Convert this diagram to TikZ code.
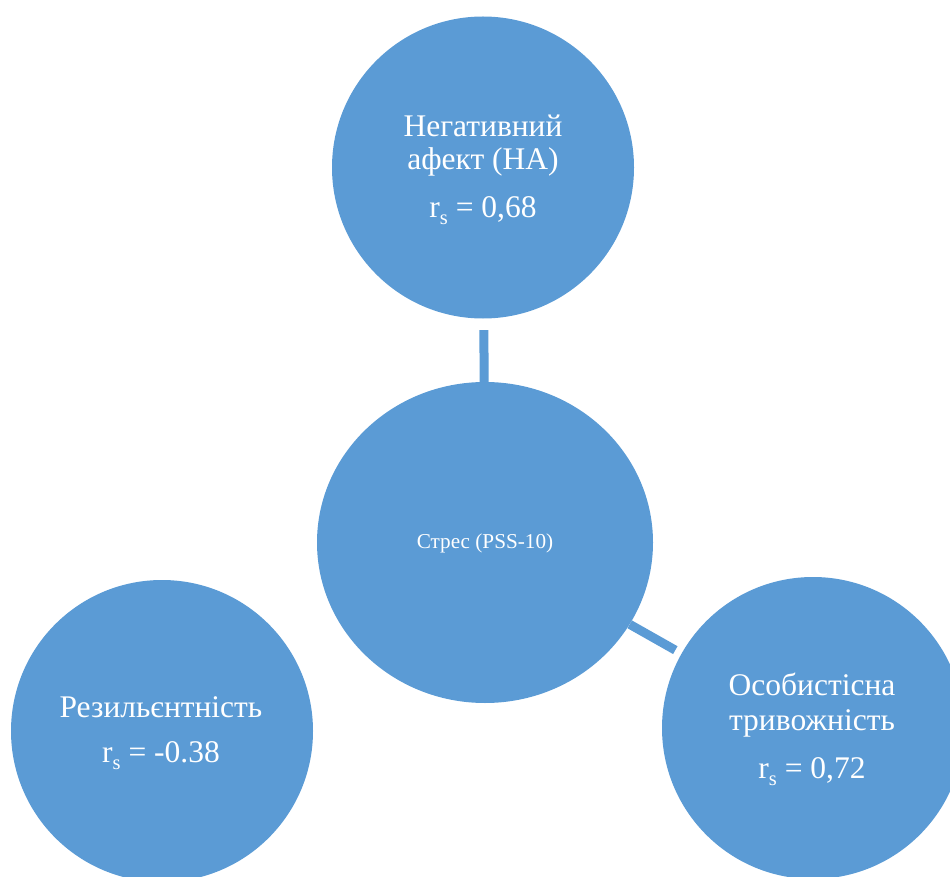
\documentclass[tikz,border=0pt]{standalone}
\usepackage{fontspec}
\setmainfont{Liberation Serif}
\usetikzlibrary{shapes.geometric}
\definecolor{cblue}{HTML}{5B9BD5}
\newcommand\rsub{r\raisebox{-7pt}{\fontsize{20.5}{20.5}\selectfont s}}
\tikzset{
  bubble/.style={circle, fill=cblue, draw=none, inner sep=0pt, minimum size=302pt},
  bigtxt/.style={text=white, font=\fontsize{31.5}{36}\selectfont, anchor=base, inner sep=0pt},
  smalltxt/.style={text=white, font=\fontsize{21.2}{25}\selectfont, anchor=base, inner sep=0pt},
  link/.style={draw=cblue, line width=9pt}
}
\begin{document}
\begin{tikzpicture}[x=1pt,y=-1pt]
\useasboundingbox (0,0) rectangle (950,877);
\clip (0,0) rectangle (950,877);
\node[bubble] (na) at (483,167.5) {};
\node[ellipse, fill=cblue, inner sep=0pt, minimum width=336pt, minimum height=321pt] (stress) at (485,542.5) {};
\node[bubble] (res) at (162,731) {};
\node[bubble] (anx) at (813,728) {};
\draw[link, shorten <=11.5pt] (na) -- (stress);
\draw[link, shorten >=7pt] (stress) -- (anx);
\node[bigtxt] (na1) at (483,137) {Негативний};
\node[bigtxt] (na2) at (483,170) {афект (НА)};
\node[bigtxt] (na3) at (483,218) {\rsub{} = 0,68};
\node[smalltxt] (st1) at (485,548) {Стрес (PSS-10)};
\node[bigtxt] (re1) at (161,717) {Резильєнтність};
\node[bigtxt] (re2) at (161,762) {\rsub{} = -0.38};
\node[bigtxt] (an1) at (812,695) {Особистісна};
\node[bigtxt] (an2) at (812,730) {тривожність};
\node[bigtxt] (an3) at (812,778) {\rsub{} = 0,72};
\end{tikzpicture}
\end{document}
